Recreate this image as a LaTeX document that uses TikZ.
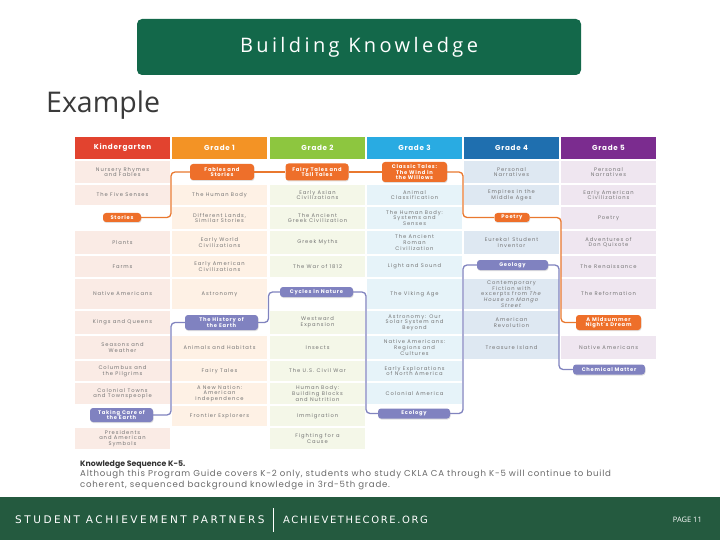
\documentclass[tikz,border=0pt]{standalone}
\usepackage{fontspec}
\setmainfont{Open Sans}
\newfontfamily\pop{Poppins}[LetterSpace=18]
\newfontfamily\poph{Poppins}[LetterSpace=10]
\newfontfamily\popp{Poppins}[LetterSpace=14]
\newfontfamily\popc{Poppins}[LetterSpace=9]
\newfontfamily\popb{Poppins}
\newfontfamily\foot{DejaVu Sans}[LetterSpace=24]
\newfontfamily\footb{DejaVu Sans}[LetterSpace=16]
\newfontfamily\ttl{Open Sans}[LetterSpace=17]
\usetikzlibrary{shadows}
\definecolor{titlegreen}{HTML}{13684A}
\definecolor{footgreen}{HTML}{245A3F}
\definecolor{examplegray}{HTML}{3A3A3A}
\definecolor{kh}{HTML}{E2432F}
\definecolor{gah}{HTML}{F39325}
\definecolor{gbh}{HTML}{8DC63F}
\definecolor{gch}{HTML}{29ABE2}
\definecolor{gdh}{HTML}{1F6FAF}
\definecolor{geh}{HTML}{7B2C8F}
\definecolor{kbg}{HTML}{FAEBE5}
\definecolor{gabg}{HTML}{FEF1E5}
\definecolor{gbbg}{HTML}{F4F7E8}
\definecolor{gcbg}{HTML}{E6F3F9}
\definecolor{gdbg}{HTML}{DEE8F2}
\definecolor{gebg}{HTML}{EFE6F0}
\definecolor{pillor}{HTML}{EE6F2A}
\definecolor{pillpu}{HTML}{8082C0}
\definecolor{lineor}{HTML}{E9782F}
\definecolor{linepu}{HTML}{8184BF}
\definecolor{celltxt}{HTML}{747474}
\definecolor{captdark}{HTML}{333333}
\definecolor{captgray}{HTML}{6A6A6A}
\newcommand\Cell[6]{\node[cell,fill=#2,minimum height=#5pt] (#1) at (#3,#4) {#6};}
\begin{document}
\begin{tikzpicture}[x=1pt,y=-1pt,
  cell/.style={inner sep=0pt, minimum width=95pt, align=center, text=celltxt, font=\pop\fontsize{5.2}{5.6}\selectfont},
  hdr/.style={inner sep=0pt, minimum width=95pt, minimum height=22pt, text=white, font=\poph\bfseries\fontsize{7.2}{8}\selectfont},
  pill/.style={inner sep=0pt, rounded corners=3pt, align=center, text=white, font=\popp\bfseries\fontsize{5.2}{5.5}\selectfont, drop shadow={shadow xshift=0.5pt, shadow yshift=-1pt, opacity=0.25}},
  opill/.style={pill, fill=pillor},
  ppill/.style={pill, fill=pillpu},
  oline/.style={draw=lineor, line width=1.3pt, rounded corners=4pt},
  pline/.style={draw=linepu, line width=1.3pt, rounded corners=4pt},
]
\useasboundingbox (0,0) rectangle (720,540);
\fill[white] (0,0) rectangle (720,540);
% title
\node[fill=titlegreen, rounded corners=5pt, minimum width=444pt, minimum height=56pt, inner sep=0pt, text=white, font=\ttl\fontsize{20}{23}\selectfont] (title) at (359,47) {Building Knowledge};
\node[anchor=base west, inner sep=0pt, text=examplegray, font=\fontsize{28.5}{31}\selectfont] (example) at (46,113) {Example};
% headers
\node[hdr, fill=kh] (hk) at (122.5,148) {Kindergarten};
\node[hdr, fill=gah] (h1) at (219.5,148) {Grade 1};
\node[hdr, fill=gbh] (h2) at (317.5,148) {Grade 2};
\node[hdr, fill=gch] (h3) at (414.5,148) {Grade 3};
\node[hdr, fill=gdh] (h4) at (511.5,148) {Grade 4};
\node[hdr, fill=geh] (h5) at (608.5,148) {Grade 5};
% Kindergarten
\Cell{k1}{kbg}{122.5}{172}{22}{Nursery Rhymes\\and Fables}
\Cell{k2}{kbg}{122.5}{195}{20}{The Five Senses}
\Cell{k4}{kbg}{122.5}{242.5}{23}{Plants}
\Cell{k5}{kbg}{122.5}{266.5}{21}{Farms}
\Cell{k6}{kbg}{122.5}{294}{30}{Native Americans}
\Cell{k7}{kbg}{122.5}{322.5}{23}{Kings and Queens}
\Cell{k8}{kbg}{122.5}{347.5}{23}{Seasons and\\Weather}
\Cell{k9}{kbg}{122.5}{371}{20}{Columbus and\\the Pilgrims}
\Cell{k10}{kbg}{122.5}{393.5}{21}{Colonial Towns\\and Townspeople}
\Cell{k12}{kbg}{122.5}{438.5}{21}{Presidents\\and American\\Symbols}
% Grade 1
\Cell{a2}{gabg}{219.5}{195}{20}{The Human Body}
\Cell{a3}{gabg}{219.5}{218}{22}{Different Lands,\\Similar Stories}
\Cell{a4}{gabg}{219.5}{242.5}{23}{Early World\\Civilizations}
\Cell{a5}{gabg}{219.5}{266.5}{21}{Early American\\Civilizations}
\Cell{a6}{gabg}{219.5}{294}{30}{Astronomy}
\Cell{a8}{gabg}{219.5}{347.5}{23}{Animals and Habitats}
\Cell{a9}{gabg}{219.5}{371}{20}{Fairy Tales}
\Cell{a10}{gabg}{219.5}{393.5}{21}{A New Nation:\\American\\Independence}
\Cell{a11}{gabg}{219.5}{416}{20}{Frontier Explorers}
% Grade 2
\Cell{b2}{gbbg}{317.5}{195}{20}{Early Asian\\Civilizations}
\Cell{b3}{gbbg}{317.5}{218}{22}{The Ancient\\Greek Civilization}
\Cell{b4}{gbbg}{317.5}{242.5}{23}{Greek Myths}
\Cell{b5}{gbbg}{317.5}{266.5}{21}{The War of 1812}
\Cell{b7}{gbbg}{317.5}{322.5}{23}{Westward\\Expansion}
\Cell{b8}{gbbg}{317.5}{347.5}{23}{Insects}
\Cell{b9}{gbbg}{317.5}{371}{20}{The U.S. Civil War}
\Cell{b10}{gbbg}{317.5}{393.5}{21}{Human Body:\\Building Blocks\\and Nutrition}
\Cell{b11}{gbbg}{317.5}{416}{20}{Immigration}
\Cell{b12}{gbbg}{317.5}{438.5}{21}{Fighting for a\\Cause}
% Grade 3
\Cell{c2}{gcbg}{414.5}{195}{20}{Animal\\Classification}
\Cell{c3}{gcbg}{414.5}{218}{22}{The Human Body:\\Systems and\\Senses}
\Cell{c4}{gcbg}{414.5}{242.5}{23}{The Ancient\\Roman\\Civilization}
\Cell{c5}{gcbg}{414.5}{266.5}{21}{Light and Sound}
\Cell{c6}{gcbg}{414.5}{294}{30}{The Viking Age}
\Cell{c7}{gcbg}{414.5}{322.5}{23}{Astronomy: Our\\Solar System and\\Beyond}
\Cell{c8}{gcbg}{414.5}{347.5}{23}{Native Americans:\\Regions and\\Cultures}
\Cell{c9}{gcbg}{414.5}{371}{20}{Early Explorations\\of North America}
\Cell{c10}{gcbg}{414.5}{393.5}{21}{Colonial America}
% Grade 4
\Cell{d1}{gdbg}{511.5}{172}{22}{Personal\\Narratives}
\Cell{d2}{gdbg}{511.5}{195}{20}{Empires in the\\Middle Ages}
\Cell{d4}{gdbg}{511.5}{242.5}{23}{Eureka! Student\\Inventor}
\Cell{d6}{gdbg}{511.5}{294}{30}{Contemporary\\Fiction with\\excerpts from \textit{The}\\\textit{House on Mango}\\\textit{Street}}
\Cell{d7}{gdbg}{511.5}{322.5}{23}{American\\Revolution}
\Cell{d8}{gdbg}{511.5}{347.5}{23}{Treasure Island}
% Grade 5
\Cell{e1}{gebg}{608.5}{172}{22}{Personal\\Narratives}
\Cell{e2}{gebg}{608.5}{195}{20}{Early American\\Civilizations}
\Cell{e3}{gebg}{608.5}{218}{22}{Poetry}
\Cell{e4}{gebg}{608.5}{242.5}{23}{Adventures of\\Don Quixote}
\Cell{e5}{gebg}{608.5}{266.5}{21}{The Renaissance}
\Cell{e6}{gebg}{608.5}{294}{30}{The Reformation}
\Cell{e8}{gebg}{608.5}{347.5}{23}{Native Americans}
% pills
\node[opill, minimum width=38pt, minimum height=9pt] (stories) at (122,217.5) {Stories};
\node[opill, minimum width=64pt, minimum height=16pt] (fables) at (222,172) {Fables and\\Stories};
\node[opill, minimum width=63pt, minimum height=17pt] (fairy) at (317,172) {Fairy Tales and\\Tall Tales};
\node[opill, minimum width=65pt, minimum height=20pt] (classic) at (414.5,172) {Classic Tales:\\The Wind in\\the Willows};
\node[opill, minimum width=35pt, minimum height=9pt] (poetry) at (512,217.5) {Poetry};
\node[opill, minimum width=65pt, minimum height=15pt] (mids) at (608.5,322.5) {A Midsummer\\Night's Dream};
\node[ppill, minimum width=73pt, minimum height=15pt] (history) at (221.5,322.5) {The History of\\the Earth};
\node[ppill, minimum width=73pt, minimum height=10pt] (cycles) at (316.5,292) {Cycles in Nature};
\node[ppill, minimum width=72pt, minimum height=10pt] (ecology) at (414,413.5) {Ecology};
\node[ppill, minimum width=71pt, minimum height=10pt] (geology) at (512.5,265) {Geology};
\node[ppill, minimum width=63pt, minimum height=14pt] (taking) at (121.5,415) {Taking Care of\\the Earth};
\node[ppill, minimum width=72pt, minimum height=10pt] (chem) at (609,369.5) {Chemical Matter};
% connector columns
\coordinate (xK) at (171,0);
\coordinate (x12) at (268.5,0);
\coordinate (x23) at (366,0);
\coordinate (x34) at (463,0);
\coordinate (x45o) at (561,0);
\coordinate (x45p) at (559,0);
% orange sequence
\draw[oline] (stories.east) -| (xK |- fables.west) -- (fables.west);
\draw[oline] (fables.east) -- (fairy.west);
\draw[oline] (fairy.east) -- (classic.west);
\draw[oline] (classic.east) -| (x34 |- poetry.west) -- (poetry.west);
\draw[oline] (poetry.east) -| (x45o |- mids.west) -- (mids.west);
% purple sequence
\draw[pline] (taking.east) -| (xK |- history.west) -- (history.west);
\draw[pline] (history.east) -| (x12 |- cycles.west) -- (cycles.west);
\draw[pline] (cycles.east) -| (x23 |- ecology.west) -- (ecology.west);
\draw[pline] (ecology.east) -| (x34 |- geology.west) -- (geology.west);
\draw[pline] (geology.east) -| (x45p |- chem.west) -- (chem.west);
% caption
\node[anchor=base west, inner sep=0pt, text=captdark, font=\popb\bfseries\fontsize{7.8}{10}\selectfont] (caph) at (80,466) {Knowledge Sequence K-5.};
\node[anchor=base west, inner sep=0pt, text=captgray, font=\popc\fontsize{8.6}{10}\selectfont] (capt1) at (80,476.5) {Although this Program Guide covers K-2 only, students who study CKLA CA through K-5 will continue to build};
\node[anchor=base west, inner sep=0pt, text=captgray, font=\popc\fontsize{8.6}{10}\selectfont] (capt2) at (80,487) {coherent, sequenced background knowledge in 3rd-5th grade.};
% footer
\fill[footgreen] (0,497) rectangle (720,540);
\node[anchor=west, inner sep=0pt, text=white, font=\foot\fontsize{10.5}{12}\selectfont] (sap) at (15,520) {STUDENT ACHIEVEMENT PARTNERS};
\node[anchor=west, inner sep=0pt, text=white, font=\footb\fontsize{10}{12}\selectfont] (atc) at (283,520) {ACHIEVETHECORE.ORG};
\coordinate (divtop) at (273,508);
\coordinate (divbot) at (273,532);
\draw[white, line width=0.8pt] (divtop) -- (divbot);
\node[anchor=east, inner sep=0pt, text=white, font=\fontsize{7.5}{8}\selectfont] (page) at (702,520) {PAGE 11};
\end{tikzpicture}
\end{document}
